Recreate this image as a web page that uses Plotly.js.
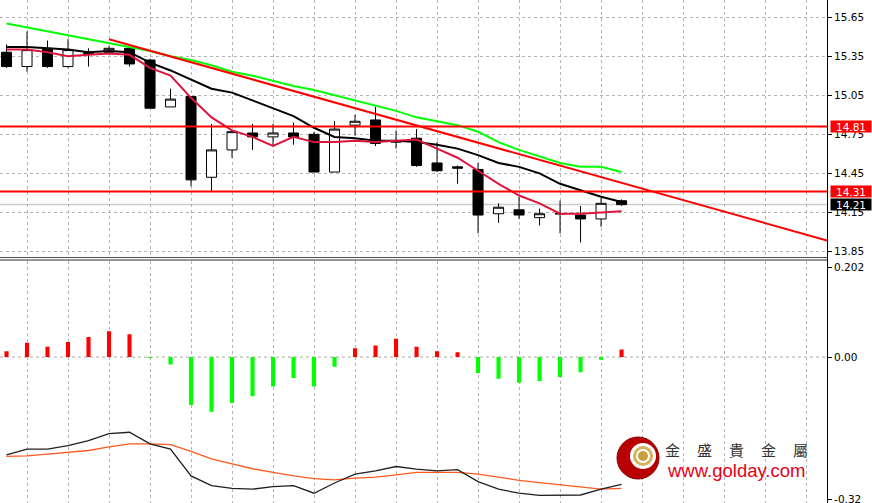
<!DOCTYPE html>
<html><head><meta charset="utf-8">
<script src="https://cdn.plot.ly/plotly-3.0.1.min.js"></script>
<style>html,body{margin:0;padding:0;background:#fff;}#chart{width:872px;height:503px;}</style>
</head><body><div id="chart"></div>
<script>
// ---- data ----
const candleIdx = [0,1,2,3,4,5,6,7,8,9,10,11,12,13,14,15,16,17,18,19,20,21,22,23,24,25,26,27,28,29,30];
const openP  = [15.38,15.27,15.41,15.27,15.37,15.38,15.41,15.32,14.96,15.04,14.42,14.63,14.76,14.73,14.76,14.75,14.46,14.82,14.86,14.70,14.72,14.53,14.50,14.48,14.14,14.17,14.11,14.14,14.13,14.10,14.24];
const highP  = [15.44,15.54,15.47,15.48,15.41,15.43,15.42,15.33,15.10,15.04,14.83,14.78,14.83,14.83,14.84,14.77,14.85,14.90,14.96,14.78,14.79,14.69,14.51,14.53,14.22,14.27,14.18,14.24,14.20,14.26,14.25];
const lowP   = [15.26,15.23,15.26,15.26,15.27,15.37,15.27,14.95,14.96,14.35,14.31,14.57,14.63,14.66,14.67,14.46,14.46,14.74,14.66,14.64,14.50,14.46,14.37,13.99,14.07,14.10,14.05,13.99,13.92,14.04,14.20];
const closeP = [15.27,15.40,15.27,15.40,15.38,15.41,15.29,14.95,15.02,14.40,14.63,14.77,14.73,14.76,14.73,14.46,14.79,14.85,14.68,14.69,14.51,14.47,14.49,14.13,14.19,14.13,14.14,14.14,14.10,14.22,14.21];

const maFast  = [15.40,15.40,15.38,15.35,15.36,15.37,15.36,15.26,15.20,15.03,14.88,14.78,14.73,14.66,14.73,14.69,14.69,14.70,14.69,14.70,14.71,14.64,14.57,14.47,14.37,14.28,14.22,14.14,14.14,14.15,14.16];
const maMid   = [15.42,15.42,15.41,15.40,15.38,15.39,15.38,15.30,15.24,15.17,15.10,15.07,15.01,14.95,14.89,14.80,14.73,14.72,14.70,14.70,14.69,14.67,14.64,14.59,14.53,14.50,14.45,14.37,14.32,14.27,14.23];
const maSlow  = [15.60,15.57,15.54,15.51,15.48,15.45,15.42,15.39,15.35,15.32,15.28,15.23,15.20,15.16,15.12,15.09,15.05,15.01,14.97,14.93,14.88,14.85,14.82,14.77,14.69,14.63,14.58,14.53,14.50,14.50,14.46];

const trendX = [5, 40.02];
const trendY = [15.48, 13.935];
const levelRed = [14.81, 14.31];
const levelLast = 14.21;

const histVals = [0.013,0.032,0.023,0.034,0.045,0.058,0.051,-0.002,-0.017,-0.108,-0.123,-0.103,-0.088,-0.066,-0.047,-0.066,-0.022,0.020,0.026,0.041,0.023,0.013,0.011,-0.036,-0.049,-0.058,-0.054,-0.045,-0.034,-0.006,0.017];
const macdLine = [-0.220,-0.207,-0.207,-0.199,-0.188,-0.172,-0.169,-0.195,-0.207,-0.267,-0.289,-0.295,-0.297,-0.291,-0.289,-0.306,-0.283,-0.263,-0.256,-0.246,-0.252,-0.256,-0.253,-0.280,-0.297,-0.306,-0.311,-0.311,-0.310,-0.297,-0.286];
const signalLine = [-0.223,-0.222,-0.218,-0.214,-0.210,-0.202,-0.195,-0.195,-0.197,-0.212,-0.229,-0.240,-0.251,-0.259,-0.267,-0.273,-0.276,-0.272,-0.270,-0.265,-0.259,-0.259,-0.259,-0.263,-0.270,-0.277,-0.282,-0.287,-0.292,-0.297,-0.295];

const priceTicks = [13.85,14.15,14.45,14.75,15.05,15.35,15.65];
const macdTicks = [0.202, 0, -0.32];
const macdTickText = ['0.202','0.00','-0.32'];
const gridX = [1,3,5,7,9,11,13,15,17,19,21,23,25,27,29,31,33,35,37,39];
const logoChars = ['金','盛','貴','金','屬'];
const logoUrl = 'www.golday.com';

// ---- layout helpers (pixels -> paper) ----
const W = 872, H = 503, PW = 827;
const px = v => v / PW;
const py = v => 1 - v / H;

const xRange = [-0.317, 40.02];
const gridStyle = {showgrid:true, gridcolor:'#b4b4b4', griddash:'3px,3px', gridwidth:1};

const traces = [
  {type:'candlestick', x:candleIdx, open:openP, high:highP, low:lowP, close:closeP,
   xaxis:'x', yaxis:'y', hoverinfo:'skip', whiskerwidth:0,
   increasing:{line:{color:'#000', width:1}, fillcolor:'#ffffff'},
   decreasing:{line:{color:'#000', width:1}, fillcolor:'#000000'}},
  {type:'scatter', mode:'lines', x:candleIdx, y:maSlow, xaxis:'x', yaxis:'y', line:{color:'#00ff00', width:2}, hoverinfo:'skip'},
  {type:'scatter', mode:'lines', x:candleIdx, y:maMid, xaxis:'x', yaxis:'y', line:{color:'#000000', width:2}, hoverinfo:'skip'},
  {type:'scatter', mode:'lines', x:candleIdx, y:maFast, xaxis:'x', yaxis:'y', line:{color:'#dc143c', width:2}, hoverinfo:'skip'},
  {type:'scatter', mode:'lines', x:trendX, y:trendY, xaxis:'x', yaxis:'y', line:{color:'#ff0000', width:2}, hoverinfo:'skip'},
  {type:'bar', x:candleIdx, y:histVals, width:0.2, xaxis:'x2', yaxis:'y2',
   marker:{color:histVals.map(v => v >= 0 ? '#ff0000' : '#00ff00'), line:{width:0}}, hoverinfo:'skip'},
  {type:'scatter', mode:'lines', x:candleIdx, y:signalLine, xaxis:'x2', yaxis:'y2', line:{color:'#ff5a1e', width:1.3}, hoverinfo:'skip'},
  {type:'scatter', mode:'lines', x:candleIdx, y:macdLine, xaxis:'x2', yaxis:'y2', line:{color:'#202020', width:1.3}, hoverinfo:'skip'}
];

const tickFont = {family:'DejaVu Sans, Verdana, sans-serif', size:10.5, color:'#000'};

const shapes = [
  ...levelRed.map(v => ({type:'line', xref:'paper', yref:'y', x0:0, x1:1, y0:v, y1:v, line:{color:'#ff0000', width:2}, layer:'above'})),
  {type:'line', xref:'paper', yref:'y', x0:0, x1:1, y0:levelLast, y1:levelLast, line:{color:'#c8d0d0', width:1.5}, layer:'below'},
  {type:'line', xref:'paper', yref:'y2', x0:0, x1:1, y0:0, y1:0, line:{color:'#a8a8a8', width:1, dash:'3px,3px'}, layer:'below'},
  {type:'line', xref:'paper', yref:'paper', x0:0, x1:1, y0:py(257.5), y1:py(257.5), line:{color:'#505050', width:1}},
  {type:'line', xref:'paper', yref:'paper', x0:0, x1:1, y0:py(260), y1:py(260), line:{color:'#707070', width:1.5}},
  {type:'line', xref:'paper', yref:'paper', x0:px(827.5), x1:px(827.5), y0:0, y1:1, line:{color:'#000', width:1}},
  // logo
  {type:'circle', xref:'paper', yref:'paper', x0:px(617), x1:px(659), y0:py(479), y1:py(437), fillcolor:'#b80000', line:{color:'#8a0000', width:1}},
  {type:'circle', xref:'paper', yref:'paper', x0:px(630), x1:px(656), y0:py(469), y1:py(443), fillcolor:'#ffffff', line:{width:0}},
  {type:'circle', xref:'paper', yref:'paper', x0:px(633), x1:px(653), y0:py(466), y1:py(446), fillcolor:'#d6b25a', line:{width:0}},
  {type:'circle', xref:'paper', yref:'paper', x0:px(636), x1:px(650), y0:py(463), y1:py(449), fillcolor:'#ffffff', line:{width:0}},
  {type:'circle', xref:'paper', yref:'paper', x0:px(638), x1:px(648), y0:py(461), y1:py(451), fillcolor:'#c9a040', line:{width:0}}
];

const labelBox = (v, bg) => ({xref:'paper', yref:'y', x:px(830), y:v, xanchor:'left', yanchor:'middle',
  text:v.toFixed(2), showarrow:false, bgcolor:bg, font:{family:'DejaVu Sans, Verdana, sans-serif', size:10.5, color:'#fff'},
  borderpad:0, width:40, height:11, align:'center'});

const logoX = [672, 704, 736, 768, 800];
const annotations = [
  ...levelRed.map(v => labelBox(v, '#ff0000')),
  labelBox(levelLast, '#000000'),
  ...logoChars.map((c, k) => ({xref:'paper', yref:'paper', x:px(logoX[k]), y:py(449), xanchor:'center', yanchor:'middle',
     text:c, showarrow:false, font:{family:'Noto Sans CJK TC', size:15, color:'#333'}})),
  {xref:'paper', yref:'paper', x:px(736), y:py(470), xanchor:'center', yanchor:'middle', text:logoUrl, showarrow:false,
   font:{family:'Liberation Sans, Arial, sans-serif', size:18.5, color:'#e60012'}}
];

const layout = {
  width:W, height:H, margin:{l:0, r:W-PW, t:0, b:0},
  paper_bgcolor:'#fff', plot_bgcolor:'#fff', showlegend:false, dragmode:false,
  xaxis:Object.assign({domain:[0,1], anchor:'y', range:xRange, tickvals:gridX, showticklabels:false, ticks:'', zeroline:false, showline:false, rangeslider:{visible:false}}, gridStyle),
  xaxis2:Object.assign({domain:[0,1], anchor:'y2', range:xRange, tickvals:gridX, showticklabels:false, ticks:'', zeroline:false, showline:false}, gridStyle),
  yaxis:Object.assign({domain:[py(257.5),1], anchor:'x', side:'right', range:[13.804, 15.781], tickvals:priceTicks, ticktext:priceTicks.map(v=>v.toFixed(2)),
     ticks:'outside', ticklen:4, tickcolor:'#000', tickfont:tickFont, zeroline:false, showline:false, ticklabeloverflow:'allow'}, gridStyle),
  yaxis2:{domain:[0, py(260.5)], anchor:'x2', side:'right', range:[-0.328, 0.217], tickvals:macdTicks, ticktext:macdTickText,
     ticks:'outside', ticklen:4, tickcolor:'#000', tickfont:tickFont, zeroline:false, showline:false, showgrid:false, ticklabeloverflow:'allow'},
  shapes:shapes, annotations:annotations
};

Plotly.newPlot('chart', traces, layout, {staticPlot:true, displayModeBar:false});
</script>
</body></html>
